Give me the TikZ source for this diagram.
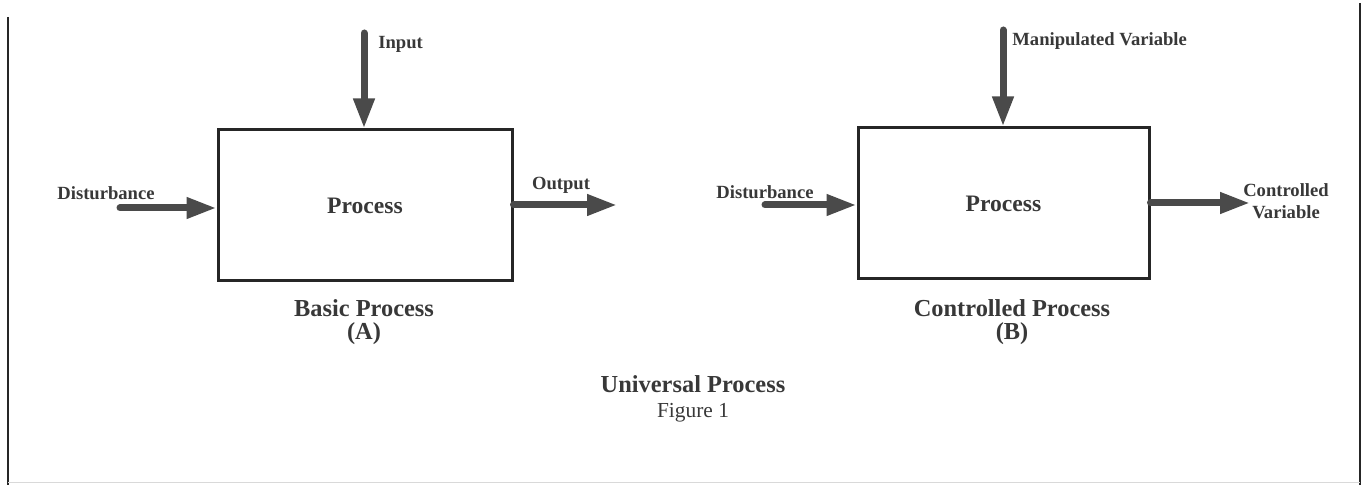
\documentclass[tikz,border=0pt]{standalone}
\usepackage{fontspec}
\setmainfont{Liberation Serif}
\usetikzlibrary{arrows.meta}
\definecolor{inkgray}{HTML}{383838}
\definecolor{arrowgray}{HTML}{4A4A4A}
\definecolor{boxline}{HTML}{262626}
\begin{document}
\begin{tikzpicture}[x=0.5pt, y=-0.5pt,
	procbox/.style={draw=boxline, line width=1.5pt, minimum height=75.5pt, inner sep=0pt, text=inkgray, font=\bfseries\fontsize{11.8}{13}\selectfont},
	flow/.style={draw=arrowgray, line width=3.5pt, line cap=round, -{Triangle[length=15pt,width=10pt]}},
	lbl/.style={inner sep=0pt, text=inkgray, font=\bfseries\fontsize{9.3}{11}\selectfont},
	caption/.style={inner sep=0pt, align=center, text=inkgray, font=\bfseries\fontsize{12.2}{11.5}\selectfont},
	frame/.style={draw=boxline, line width=1pt}]
	\useasboundingbox (0,0) rectangle (1370,485);
	
	\draw[frame] (8,17) -- (8,485);
	\draw[frame] (1360,3) -- (1360,485);
	\draw[gray!30, line width=0.5pt] (8,483) -- (1360,483);
	
	\node[procbox, minimum width=147pt] (boxA) at (365,205.5) {Process};
	\node[procbox, minimum width=145.5pt] (boxB) at (1003.5,203.5) {Process};
	
	\coordinate (inA) at (364,33);
	\coordinate (distA) at (120,208);
	\coordinate (outA) at (617,205);
	\coordinate (inB) at (1003,30);
	\coordinate (distB) at (765,205);
	\coordinate (outB) at (1250,203);
	
	\draw[flow] (inA) -- (inA |- boxA.north);
	\draw[flow] (distA) -- (distA -| boxA.west);
	\draw[flow] (boxA.east |- outA) -- (outA);
	
	\draw[flow] (inB) -- (inB |- boxB.north);
	\draw[flow] (distB) -- (distB -| boxB.west);
	\draw[flow] (boxB.east |- outB) -- (outB);
	
	\node[lbl, anchor=west] (inputlbl) at (378,44) {Input};
	\node[lbl] (distAlbl) at (106,193) {Disturbance};
	\node[lbl] (outlbl) at (561,185) {Output};
	
	\node[lbl, anchor=west] (manlbl) at (1012,41) {Manipulated Variable};
	\node[lbl] (distBlbl) at (765,192) {Disturbance};
	\node[lbl, align=center] (ctrlvar) at (1286,201) {Controlled\\Variable};
	
	\node[caption] (capA) at (364,322) {Basic Process\\(A)};
	\node[caption] (capB) at (1012,322) {Controlled Process\\(B)};
	\node[caption, font=\bfseries\fontsize{12.2}{12.5}\selectfont] (univ) at (693,399) {Universal Process\\{\mdseries\fontsize{10.7}{12.5}\selectfont Figure 1}};
\end{tikzpicture}
\end{document}
